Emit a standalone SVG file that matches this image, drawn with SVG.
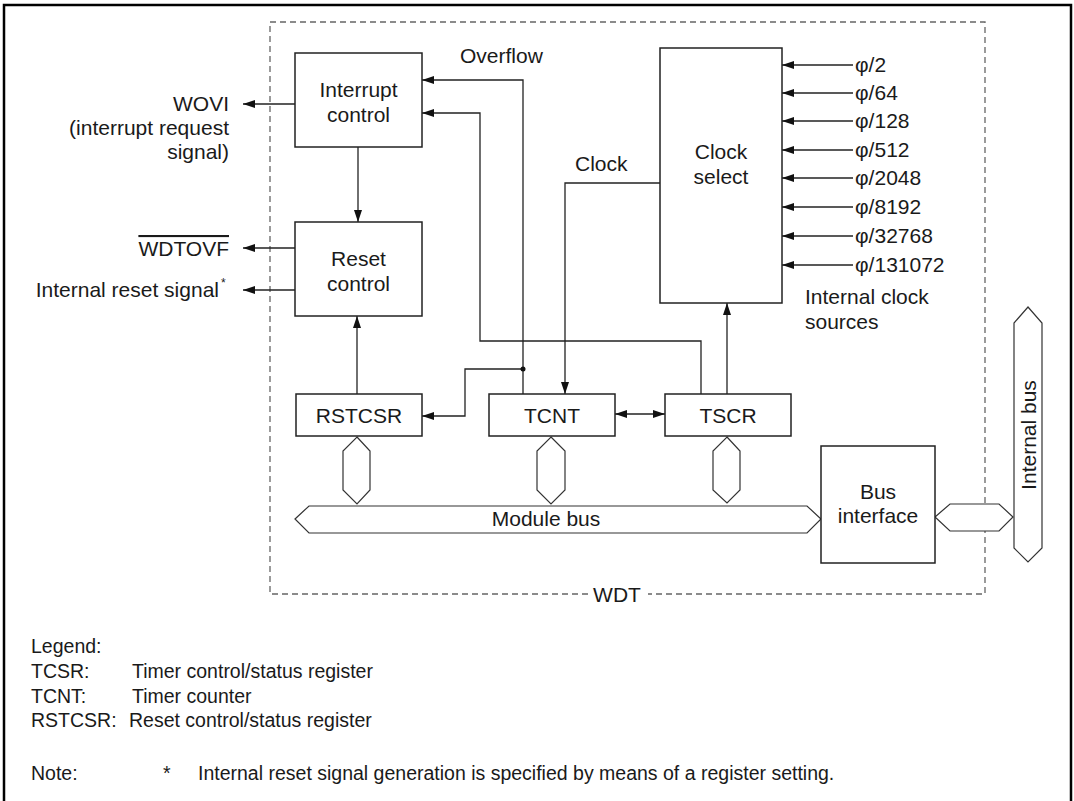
<svg xmlns="http://www.w3.org/2000/svg" width="1074" height="801" viewBox="0 0 1074 801">
<defs>
<style>
text{font-family:"Liberation Sans",Arial,Helvetica,sans-serif;font-size:21px;fill:#1a1a1a}
.box{fill:#fff;stroke:#222;stroke-width:1.5}
.ln{fill:none;stroke:#222;stroke-width:1.3}
.bus{fill:#fff;stroke:#333;stroke-width:1.2}
.dash{fill:none;stroke:#666;stroke-width:1.3;stroke-dasharray:6 4}
.mid{text-anchor:middle}
.end{text-anchor:end}
.lg{font-size:19.5px}
</style>
<marker id="ah" viewBox="0 0 12 8" refX="12" refY="4" markerWidth="12" markerHeight="8" markerUnits="userSpaceOnUse" orient="auto-start-reverse">
<path d="M0,0 L12,4 L0,8 z" fill="#111"/>
</marker>
</defs>
<rect x="0" y="0" width="1074" height="801" fill="#fff"/>
<rect x="4" y="5" width="1067" height="810" fill="none" stroke="#000" stroke-width="2.5"/>

<g id="wdt-boundary">
<path class="dash" d="M588,594 L270,594 L270,22 L985,22 L985,594 L648,594"/>
<text x="617" y="602" class="mid">WDT</text>
</g>

<g id="connectors">
<line class="ln" x1="295" y1="104" x2="243" y2="104" marker-end="url(#ah)"/>
<line class="ln" x1="295" y1="248" x2="243" y2="248" marker-end="url(#ah)"/>
<line class="ln" x1="295" y1="290" x2="243" y2="290" marker-end="url(#ah)"/>
<line class="ln" x1="358" y1="147" x2="358" y2="222" marker-end="url(#ah)"/>
<polyline class="ln" points="523,394 523,80 422,80" marker-end="url(#ah)"/>
<polyline class="ln" points="701,394 701,341 480,341 480,113 422,113" marker-end="url(#ah)"/>
<polyline class="ln" points="660,183 565,183 565,394" marker-end="url(#ah)"/>
<polyline class="ln" points="523,369 465,369 465,416 422,416" marker-end="url(#ah)"/>
<circle cx="523" cy="369" r="2.5" fill="#111"/>
<line class="ln" x1="357" y1="394" x2="357" y2="316" marker-end="url(#ah)"/>
<line class="ln" x1="615" y1="414" x2="665" y2="414" marker-start="url(#ah)" marker-end="url(#ah)"/>
<line class="ln" x1="727" y1="394" x2="727" y2="303" marker-end="url(#ah)"/>
<line class="ln" x1="853" y1="65" x2="782" y2="65" marker-end="url(#ah)"/>
<line class="ln" x1="853" y1="93" x2="782" y2="93" marker-end="url(#ah)"/>
<line class="ln" x1="853" y1="121" x2="782" y2="121" marker-end="url(#ah)"/>
<line class="ln" x1="853" y1="150" x2="782" y2="150" marker-end="url(#ah)"/>
<line class="ln" x1="853" y1="178" x2="782" y2="178" marker-end="url(#ah)"/>
<line class="ln" x1="853" y1="207" x2="782" y2="207" marker-end="url(#ah)"/>
<line class="ln" x1="853" y1="236" x2="782" y2="236" marker-end="url(#ah)"/>
<line class="ln" x1="853" y1="265" x2="782" y2="265" marker-end="url(#ah)"/>
<polygon class="bus" points="357,437 370,451 370,490 357,504 343,490 343,451"/>
<polygon class="bus" points="551,437 565,451 565,490 551,504 537,490 537,451"/>
<polygon class="bus" points="727,437 740,451 740,490 727,503 713,490 713,451"/>
<polygon class="bus" points="935,517 950,504 999,504 1013,517 999,531 950,531"/>
</g>

<g id="signal-labels">
<text x="229" y="111" class="end">WOVI</text>
<text x="229" y="135" class="end">(interrupt request</text>
<text x="229" y="159" class="end">signal)</text>
<text x="229" y="256" class="end" style="text-decoration:overline">WDTOVF</text>
<text x="219" y="297" class="end">Internal reset signal</text>
<text x="221" y="287" style="font-size:12px">*</text>
<text x="460" y="63">Overflow</text>
<text x="575" y="171">Clock</text>
<text x="855" y="72">φ/2</text>
<text x="855" y="100">φ/64</text>
<text x="855" y="128">φ/128</text>
<text x="855" y="157">φ/512</text>
<text x="855" y="185">φ/2048</text>
<text x="855" y="214">φ/8192</text>
<text x="855" y="243">φ/32768</text>
<text x="855" y="272">φ/131072</text>
<text x="805" y="304">Internal clock</text>
<text x="805" y="329">sources</text>
</g>

<g id="interrupt-control">
<rect class="box" x="295" y="53" width="127" height="94"/>
<text x="358.5" y="97" class="mid">Interrupt</text>
<text x="358.5" y="122" class="mid">control</text>
</g>
<g id="reset-control">
<rect class="box" x="295" y="222" width="127" height="94"/>
<text x="358.5" y="266" class="mid">Reset</text>
<text x="358.5" y="291" class="mid">control</text>
</g>
<g id="clock-select">
<rect class="box" x="660" y="48" width="122" height="255"/>
<text x="721" y="159" class="mid">Clock</text>
<text x="721" y="184" class="mid">select</text>
</g>
<g id="rstcsr">
<rect class="box" x="296" y="394" width="126" height="42"/>
<text x="359" y="423" class="mid">RSTCSR</text>
</g>
<g id="tcnt">
<rect class="box" x="489" y="394" width="126" height="42"/>
<text x="552" y="423" class="mid">TCNT</text>
</g>
<g id="tscr">
<rect class="box" x="665" y="394" width="126" height="42"/>
<text x="728" y="423" class="mid">TSCR</text>
</g>
<g id="module-bus">
<polygon class="bus" points="295,519 309,506 807,506 821,519 807,533 309,533"/>
<text x="546" y="526" class="mid">Module bus</text>
</g>
<g id="bus-interface">
<rect class="box" x="821" y="446" width="114" height="117"/>
<text x="878" y="499" class="mid">Bus</text>
<text x="878" y="523" class="mid">interface</text>
</g>
<g id="internal-bus">
<polygon class="bus" points="1028,307 1042,323 1042,548 1028,562 1014,548 1014,323"/>
<text transform="translate(1036,435) rotate(-90)" class="mid">Internal bus</text>
</g>

<g id="legend">
<text x="31" y="653" class="lg">Legend:</text>
<text x="31" y="678" class="lg">TCSR:</text>
<text x="132" y="678" class="lg">Timer control/status register</text>
<text x="31" y="703" class="lg">TCNT:</text>
<text x="132" y="703" class="lg">Timer counter</text>
<text x="31" y="727" class="lg">RSTCSR:</text>
<text x="129" y="727" class="lg">Reset control/status register</text>
<text x="31" y="780" class="lg">Note:</text>
<text x="163" y="780" class="lg">*</text>
<text x="198" y="780" class="lg">Internal reset signal generation is specified by means of a register setting.</text>
</g>
</svg>
